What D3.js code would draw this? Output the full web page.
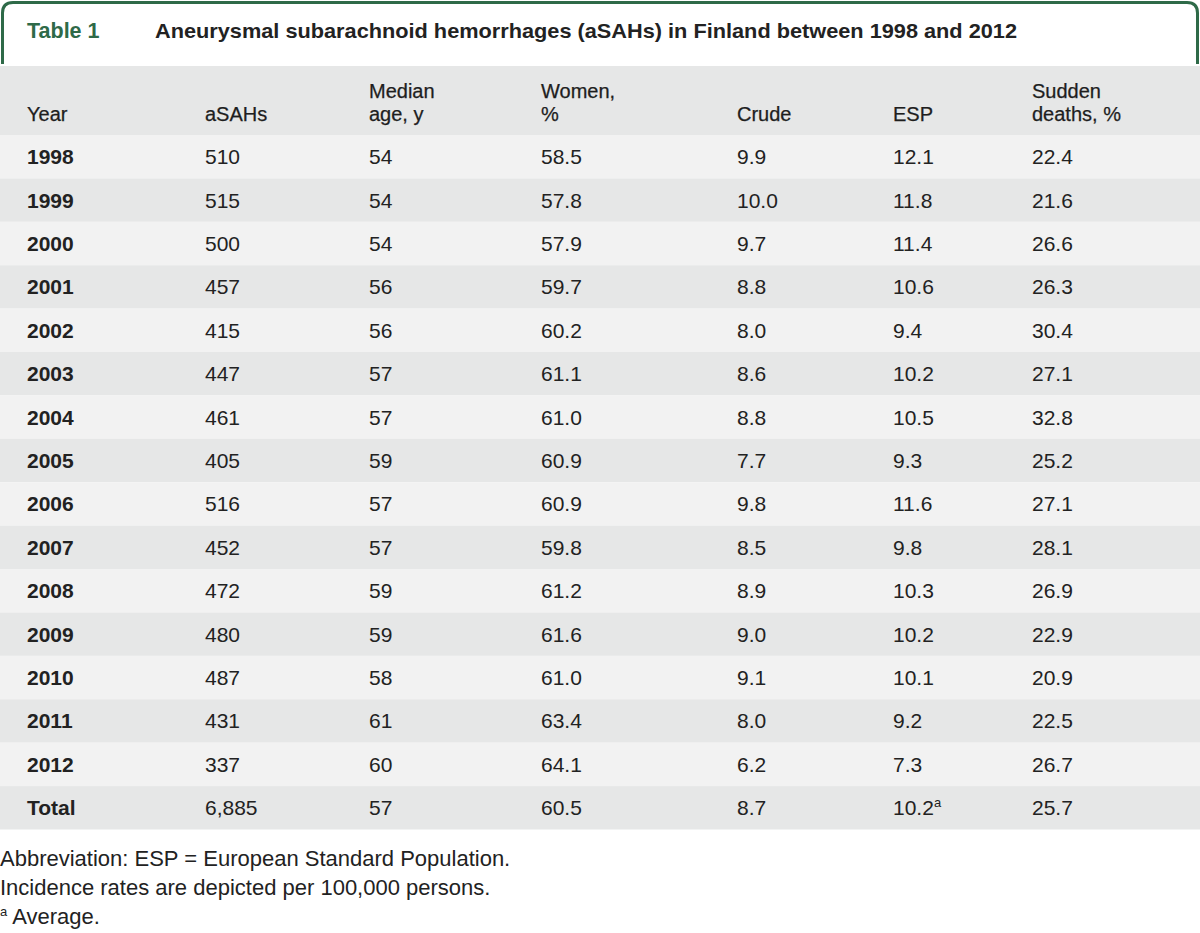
<!DOCTYPE html>
<html><head><meta charset="utf-8">
<script src="https://cdn.jsdelivr.net/npm/d3@7"></script>
<style>
html,body{margin:0;padding:0;background:#fff;}
svg{display:block;font-family:"Liberation Sans",Arial,sans-serif;}
</style></head>
<body>
<script>
const years = ["1998","1999","2000","2001","2002","2003","2004","2005","2006","2007","2008","2009","2010","2011","2012","Total"];
const asahs = ["510","515","500","457","415","447","461","405","516","452","472","480","487","431","337","6,885"];
const medianAge = ["54","54","54","56","56","57","57","59","57","57","59","59","58","61","60","57"];
const women = ["58.5","57.8","57.9","59.7","60.2","61.1","61.0","60.9","60.9","59.8","61.2","61.6","61.0","63.4","64.1","60.5"];
const crude = ["9.9","10.0","9.7","8.8","8.0","8.6","8.8","7.7","9.8","8.5","8.9","9.0","9.1","8.0","6.2","8.7"];
const esp = ["12.1","11.8","11.4","10.6","9.4","10.2","10.5","9.3","11.6","9.8","10.3","10.2","10.1","9.2","7.3","10.2"];
const espNote = ["","","","","","","","","","","","","","","","a"];
const sudden = ["22.4","21.6","26.6","26.3","30.4","27.1","32.8","25.2","27.1","28.1","26.9","22.9","20.9","22.5","26.7","25.7"];
const headerLines = [["","Year"],["","aSAHs"],["Median","age, y"],["Women,","%"],["","Crude"],["","ESP"],["Sudden","deaths, %"]];
const titleLabel = "Table 1";
const titleText = "Aneurysmal subarachnoid hemorrhages (aSAHs) in Finland between 1998 and 2012";
const footnotes = ["Abbreviation: ESP = European Standard Population.","Incidence rates are depicted per 100,000 persons."];
const footA = " Average.";

const W = 1200, H = 933;
const green = "#2e6a48", ink = "#222";
const colX = [27, 205, 369, 541, 737, 893, 1032];
const columns = [years, asahs, medianAge, women, crude, esp, sudden];

const svg = d3.select("body").append("svg").attr("width", W).attr("height", H);

// title box
svg.append("path")
  .attr("d", "M2.5,64 L2.5,13 Q2.5,2.5 13,2.5 L1187,2.5 Q1197.5,2.5 1197.5,13 L1197.5,64")
  .attr("fill", "none").attr("stroke", green).attr("stroke-width", 3);
svg.append("text").attr("x", 27).attr("y", 37.5).attr("fill", green)
  .attr("font-weight", "bold").attr("font-size", 21.5).text(titleLabel);
svg.append("text").attr("x", 155).attr("y", 37.5).attr("fill", ink)
  .attr("font-weight", "bold").attr("font-size", 21)
  .attr("textLength", 862).attr("lengthAdjust", "spacingAndGlyphs").text(titleText);

// header band
svg.append("rect").attr("x", 0).attr("y", 66).attr("width", W).attr("height", 69).attr("fill", "#e6e7e7");
headerLines.forEach((lines, i) => {
  const t = svg.append("text").attr("x", colX[i]).attr("fill", "#1e1e1e").attr("font-size", 20)
    .attr("stroke", "#1e1e1e").attr("stroke-width", 0.25);
  t.append("tspan").attr("x", colX[i]).attr("y", 98).text(lines[0]);
  t.append("tspan").attr("x", colX[i]).attr("y", 120.5).text(lines[1]);
});

// rows
const y = d3.scaleBand().domain(d3.range(years.length)).range([135, 829.5]);
const rows = svg.selectAll("g.row").data(d3.range(years.length)).join("g").attr("class", "row");
rows.append("rect").attr("x", 0).attr("width", W)
  .attr("y", i => y(i)).attr("height", y.bandwidth())
  .attr("fill", i => i % 2 === 0 ? "#f2f2f2" : "#e6e7e7");
columns.forEach((col, c) => {
  rows.append("text")
    .attr("x", colX[c])
    .attr("y", i => y(i) + y.bandwidth() / 2 + 7.5)
    .attr("fill", ink)
    .attr("font-size", 21)
    .attr("font-weight", c === 0 ? "bold" : "normal")
    .each(function(i) {
      const s = d3.select(this);
      s.append("tspan").text(col[i]);
      if (c === 5 && espNote[i]) {
        s.append("tspan").attr("font-size", 13).attr("dy", -8).text(espNote[i]);
      }
    });
});

// footnotes
footnotes.forEach((f, i) => {
  svg.append("text").attr("x", 0).attr("y", 865.5 + i * 29).attr("fill", ink)
    .attr("font-size", 22).text(f);
});
const fa = svg.append("text").attr("x", 0).attr("y", 923.5).attr("fill", ink).attr("font-size", 22);
fa.append("tspan").attr("font-size", 13).attr("dy", -8).text("a");
fa.append("tspan").attr("dy", 8).text(footA);
</script>
</body></html>
